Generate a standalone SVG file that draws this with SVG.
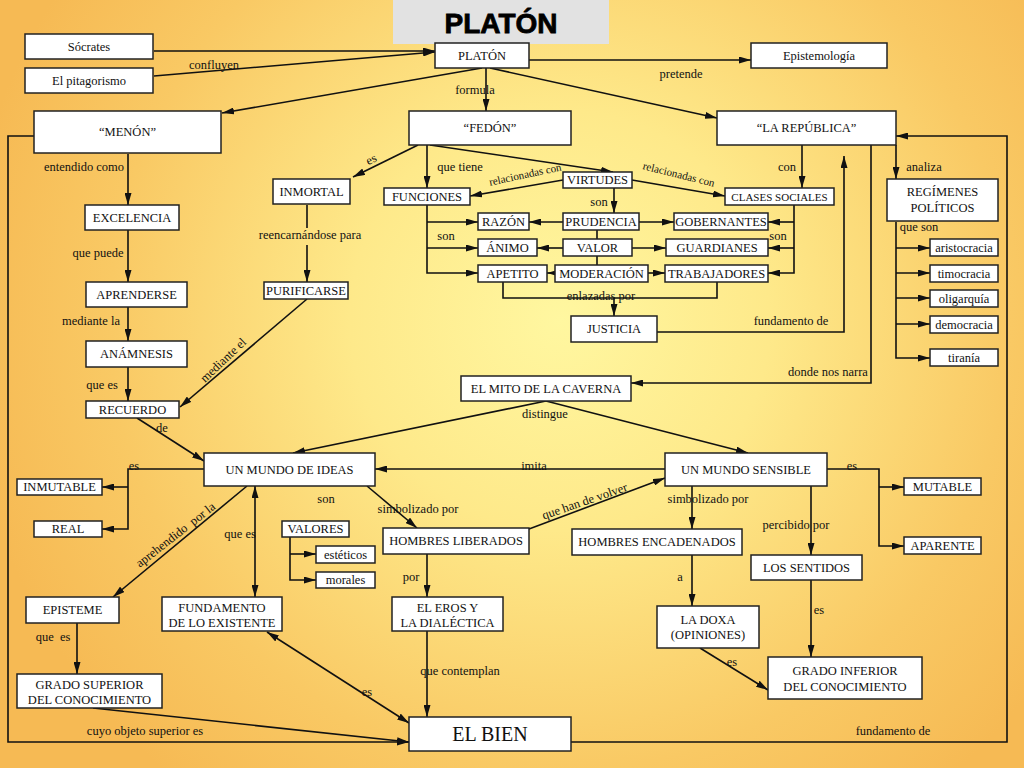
<svg xmlns="http://www.w3.org/2000/svg" width="1024" height="768" viewBox="0 0 1024 768">
<defs>
<radialGradient id="bg" gradientUnits="userSpaceOnUse" cx="560" cy="320" r="600">
<stop offset="0" stop-color="#FFF7A0"/>
<stop offset="0.35" stop-color="#FEE98A"/>
<stop offset="0.75" stop-color="#F9C964"/>
<stop offset="1" stop-color="#F6BA54"/>
</radialGradient>
<marker id="ah" viewBox="0 0 12 7" refX="12" refY="3.5" markerWidth="12" markerHeight="7" markerUnits="userSpaceOnUse" orient="auto"><path d="M0,0 L12,3.5 L0,7 z" fill="#111"/></marker>
<marker id="as" viewBox="0 0 12 7" refX="12" refY="3.5" markerWidth="12" markerHeight="7" markerUnits="userSpaceOnUse" orient="auto-start-reverse"><path d="M0,0 L12,3.5 L0,7 z" fill="#111"/></marker>
<style>
.n rect{fill:#fff;stroke:#222;stroke-width:1.5}
.n text,.l{font-family:"Liberation Serif","Times New Roman",serif;font-size:12.5px;fill:#111;text-anchor:middle}
.c path{fill:none;stroke:#111;stroke-width:1.6}
.c .a{marker-end:url(#ah)}
.c .b{marker-start:url(#as);marker-end:url(#as)}
.sm{font-size:11px !important}
</style>
</defs>
<rect x="0" y="0" width="1024" height="768" fill="url(#bg)"/>
<g id="title">
<rect x="393" y="0" width="216" height="44" fill="#E2E2E2"/>
<text x="501" y="33" font-family="Liberation Sans,Arial,sans-serif" font-weight="bold" font-size="28" text-anchor="middle" fill="#000" stroke="#000" stroke-width="0.8">PLATÓN</text>
</g>
<g class="c" id="connectors">
<path class="a" d="M154,51 H435"/>
<path class="a" d="M154,76 L435,52"/>
<path class="a" d="M529,60 H751"/>
<path class="a" d="M482,68 L222,113"/>
<path class="a" d="M486,68 V111"/>
<path class="a" d="M490,68 L717,118"/>
<path class="a" d="M128,154 V205"/>
<path class="a" d="M128,230 V282"/>
<path class="a" d="M128,307 V341"/>
<path class="a" d="M128,367 V401"/>
<path class="a" d="M418,145 L353,177"/>
<path class="a" d="M427,145 V188"/>
<path class="a" d="M430,145 L613,172"/>
<path class="a" d="M563,180 L470,196"/>
<path class="a" d="M632,180 L725,196"/>
<path class="a" d="M614,188 V213"/>
<path class="a" d="M427,205 V273 H478"/>
<path class="a" d="M427,222 H478"/>
<path class="a" d="M427,248 H478"/>
<path class="a" d="M563,222 H529"/>
<path class="a" d="M639,222 H674"/>
<path class="a" d="M563,248 H537"/>
<path class="a" d="M632,248 H666"/>
<path class="a" d="M555,273 H547"/>
<path class="a" d="M648,273 H665"/>
<path d="M597,230 V239 M597,256 V265"/>
<path class="a" d="M794,205 V273 H768"/>
<path class="a" d="M794,222 H768"/>
<path class="a" d="M794,248 H768"/>
<path d="M503,282 V298 H717 V282"/>
<path class="a" d="M614,298 V316"/>
<path class="a" d="M657,332 H844 V156"/>
<path class="a" d="M802,145 V188"/>
<path class="a" d="M896,145 V179"/>
<path class="a" d="M896,222 V358 H930"/>
<path class="a" d="M896,248 H930"/>
<path class="a" d="M896,273 H930"/>
<path class="a" d="M896,298 H930"/>
<path class="a" d="M896,324 H930"/>
<path class="a" d="M871,145 V383 H631"/>
<path class="a" d="M571,742 H1007 V136 H896"/>
<path class="a" d="M34,136 H8 V742 H409"/>
<path class="a" d="M93,708 L409,742"/>
<path d="M307,205 V228"/>
<path class="a" d="M307,245 V282"/>
<path class="a" d="M307,299 L180,407"/>
<path class="a" d="M137,418 L204,461"/>
<path class="a" d="M546,401 L293,453"/>
<path class="a" d="M546,401 L748,453"/>
<path class="a" d="M665,469 H375"/>
<path class="a" d="M204,469 H128 V529 H102"/>
<path class="a" d="M128,487 H102"/>
<path class="a" d="M247,486 L113,597"/>
<path class="b" d="M255,486 V597"/>
<path class="a" d="M367,486 L417,528"/>
<path class="a" d="M290,537 V580 H316"/>
<path class="a" d="M290,554 H316"/>
<path class="a" d="M529,529 L665,478"/>
<path class="a" d="M427,554 V597"/>
<path class="a" d="M427,631 V717"/>
<path class="b" d="M267,632 L409,723"/>
<path class="a" d="M77,623 V674"/>
<path class="a" d="M692,486 V529"/>
<path class="a" d="M692,555 V606"/>
<path class="a" d="M811,486 V555"/>
<path class="a" d="M811,580 V657"/>
<path class="a" d="M700,648 L768,690"/>
<path class="a" d="M827,469 H879 V546 H904"/>
<path class="a" d="M879,487 H904"/>
</g>
<g id="labels">
<text class="l" x="214" y="69">confluyen</text>
<text class="l" x="681" y="78">pretende</text>
<text class="l" x="475" y="94">formula</text>
<text class="l" x="84" y="171">entendido como</text>
<text class="l" x="373" y="163" transform="rotate(-25 373 163)">es</text>
<text class="l" x="460" y="171">que tiene</text>
<text class="l sm" x="526" y="178" transform="rotate(-12 526 178)">relacionadas con</text>
<text class="l sm" x="678" y="178" transform="rotate(14 678 178)">relacionadas con</text>
<text class="l" x="787" y="171">con</text>
<text class="l" x="924" y="171">analiza</text>
<text class="l" x="599" y="206">son</text>
<text class="l" x="446" y="240">son</text>
<text class="l" x="778" y="240">son</text>
<text class="l" x="919" y="231">que son</text>
<text class="l" x="310" y="239">reencarnándose para</text>
<text class="l" x="98" y="257">que puede</text>
<text class="l" x="601" y="300">enlazadas por</text>
<text class="l" x="791" y="325">fundamento de</text>
<text class="l" x="91" y="325">mediante la</text>
<text class="l" x="226" y="363" transform="rotate(-43.5 226 363)">mediante el</text>
<text class="l" x="828" y="376">donde nos narra</text>
<text class="l" x="102" y="389">que es</text>
<text class="l" x="545" y="418">distingue</text>
<text class="l" x="162" y="432">de</text>
<text class="l" x="134" y="470">es</text>
<text class="l" x="534" y="470">imita</text>
<text class="l" x="852" y="470">es</text>
<text class="l" x="326" y="503">son</text>
<text class="l" x="418" y="513">simbolizado por</text>
<text class="l" x="586" y="505" transform="rotate(-19 586 505)">que han de volver</text>
<text class="l" x="708" y="503">simbolizado por</text>
<text class="l" x="178" y="538" transform="rotate(-38 178 538)" xml:space="preserve">aprehendido  por la</text>
<text class="l" x="240" y="538">que es</text>
<text class="l" x="796" y="529">percibido por</text>
<text class="l" x="411" y="581">por</text>
<text class="l" x="680" y="581">a</text>
<text class="l" x="819" y="614">es</text>
<text class="l" x="53" y="641" xml:space="preserve">que  es</text>
<text class="l" x="732" y="666">es</text>
<text class="l" x="460" y="675">que contemplan</text>
<text class="l" x="367" y="696">es</text>
<text class="l" x="145" y="735">cuyo objeto superior es</text>
<text class="l" x="893" y="735">fundamento de</text>
</g>
<g class="n" id="socrates"><rect x="25" y="34" width="128" height="25"/><text x="89" y="50.8">Sócrates</text></g>
<g class="n" id="pitagorismo"><rect x="25" y="68" width="128" height="25"/><text x="89" y="84.8">El pitagorismo</text></g>
<g class="n" id="platon"><rect x="435" y="43" width="94" height="25"/><text x="482" y="59.8">PLATÓN</text></g>
<g class="n" id="epistemologia"><rect x="751" y="43" width="136" height="25"/><text x="819" y="59.8">Epistemología</text></g>
<g class="n" id="menon"><rect x="34" y="111" width="187" height="42"/><text x="127.5" y="136.3">“MENÓN”</text></g>
<g class="n" id="fedon"><rect x="409" y="111" width="162" height="34"/><text x="490" y="132.3">“FEDÓN”</text></g>
<g class="n" id="republica"><rect x="717" y="111" width="179" height="34"/><text x="806.5" y="132.3">“LA REPÚBLICA”</text></g>
<g class="n" id="excelencia"><rect x="85" y="205" width="94" height="25"/><text x="132" y="221.8">EXCELENCIA</text></g>
<g class="n" id="inmortal"><rect x="273" y="179" width="77" height="25"/><text x="311.5" y="195.8">INMORTAL</text></g>
<g class="n" id="funciones"><rect x="384" y="188" width="86" height="17"/><text x="427" y="200.8">FUNCIONES</text></g>
<g class="n" id="virtudes"><rect x="563" y="172" width="69" height="16"/><text x="597.5" y="184.3">VIRTUDES</text></g>
<g class="n" id="clases"><rect x="725" y="188" width="109" height="17"/><text class="sm" x="779.5" y="200.5">CLASES SOCIALES</text></g>
<g class="n" id="razon"><rect x="478" y="213" width="51" height="17"/><text x="503.5" y="225.8">RAZÓN</text></g>
<g class="n" id="prudencia"><rect x="563" y="213" width="76" height="17"/><text x="601" y="225.8">PRUDENCIA</text></g>
<g class="n" id="gobernantes"><rect x="674" y="213" width="94" height="17"/><text x="721" y="225.8">GOBERNANTES</text></g>
<g class="n" id="animo"><rect x="478" y="239" width="59" height="17"/><text x="507.5" y="251.8">ÁNIMO</text></g>
<g class="n" id="valor"><rect x="563" y="239" width="69" height="17"/><text x="597.5" y="251.8">VALOR</text></g>
<g class="n" id="guardianes"><rect x="666" y="239" width="102" height="17"/><text x="717" y="251.8">GUARDIANES</text></g>
<g class="n" id="apetito"><rect x="478" y="265" width="69" height="17"/><text x="512.5" y="277.8">APETITO</text></g>
<g class="n" id="moderacion"><rect x="555" y="265" width="93" height="17"/><text x="601.5" y="277.8">MODERACIÓN</text></g>
<g class="n" id="trabajadores"><rect x="665" y="265" width="103" height="17"/><text x="716.5" y="277.8">TRABAJADORES</text></g>
<g class="n" id="justicia"><rect x="571" y="316" width="86" height="26"/><text x="614" y="333.3">JUSTICIA</text></g>
<g class="n" id="regimenes"><rect x="887" y="179" width="111" height="42"/><text x="942.5" y="196.3">REGÍMENES</text><text x="942.5" y="211.8">POLÍTICOS</text></g>
<g class="n" id="aristocracia"><rect x="930" y="239" width="68" height="17"/><text x="964" y="251.8">aristocracia</text></g>
<g class="n" id="timocracia"><rect x="930" y="265" width="68" height="17"/><text x="964" y="277.8">timocracia</text></g>
<g class="n" id="oligarquia"><rect x="930" y="290" width="68" height="17"/><text x="964" y="302.8">oligarquía</text></g>
<g class="n" id="democracia"><rect x="930" y="316" width="68" height="17"/><text x="964" y="328.8">democracia</text></g>
<g class="n" id="tirania"><rect x="930" y="349" width="68" height="17"/><text x="964" y="361.8">tiranía</text></g>
<g class="n" id="aprenderse"><rect x="86" y="282" width="101" height="25"/><text x="136.5" y="298.8">APRENDERSE</text></g>
<g class="n" id="anamnesis"><rect x="86" y="341" width="101" height="26"/><text x="136.5" y="358.3">ANÁMNESIS</text></g>
<g class="n" id="recuerdo"><rect x="86" y="401" width="93" height="17"/><text x="132.5" y="413.8">RECUERDO</text></g>
<g class="n" id="purificarse"><rect x="264" y="282" width="84" height="17"/><text x="306" y="294.8">PURIFICARSE</text></g>
<g class="n" id="mito"><rect x="461" y="376" width="170" height="25"/><text x="546" y="392.8">EL MITO DE LA CAVERNA</text></g>
<g class="n" id="ideas"><rect x="204" y="453" width="171" height="33"/><text x="289.5" y="473.8">UN MUNDO DE IDEAS</text></g>
<g class="n" id="sensible"><rect x="665" y="453" width="162" height="33"/><text x="746" y="473.8">UN MUNDO SENSIBLE</text></g>
<g class="n" id="inmutable"><rect x="17" y="479" width="85" height="16"/><text x="59.5" y="491.3">INMUTABLE</text></g>
<g class="n" id="real"><rect x="34" y="521" width="68" height="16"/><text x="68" y="533.3">REAL</text></g>
<g class="n" id="valores"><rect x="282" y="521" width="67" height="16"/><text x="315.5" y="533.3">VALORES</text></g>
<g class="n" id="esteticos"><rect x="316" y="546" width="59" height="17"/><text x="345.5" y="558.8">estéticos</text></g>
<g class="n" id="morales"><rect x="316" y="572" width="59" height="16"/><text x="345.5" y="584.3">morales</text></g>
<g class="n" id="liberados"><rect x="383" y="528" width="146" height="26"/><text x="456" y="545.3">HOMBRES LIBERADOS</text></g>
<g class="n" id="encadenados"><rect x="572" y="529" width="170" height="26"/><text x="657" y="546.3">HOMBRES ENCADENADOS</text></g>
<g class="n" id="sentidos"><rect x="751" y="555" width="111" height="25"/><text x="806.5" y="571.8">LOS SENTIDOS</text></g>
<g class="n" id="mutable"><rect x="904" y="478" width="77" height="17"/><text x="942.5" y="490.8">MUTABLE</text></g>
<g class="n" id="aparente"><rect x="904" y="537" width="77" height="17"/><text x="942.5" y="549.8">APARENTE</text></g>
<g class="n" id="episteme"><rect x="26" y="597" width="93" height="26"/><text x="72.5" y="614.3">EPISTEME</text></g>
<g class="n" id="fundamento"><rect x="162" y="597" width="120" height="34"/><text x="222" y="611.5">FUNDAMENTO</text><text x="222" y="626.5">DE LO EXISTENTE</text></g>
<g class="n" id="eros"><rect x="392" y="597" width="111" height="34"/><text x="447.5" y="611.5">EL EROS Y</text><text x="447.5" y="626.5">LA DIALÉCTICA</text></g>
<g class="n" id="doxa"><rect x="657" y="606" width="102" height="42"/><text x="708" y="624.3">LA DOXA</text><text x="708" y="639.3">(OPINIONES)</text></g>
<g class="n" id="gradosuperior"><rect x="17" y="674" width="145" height="34"/><text x="89.5" y="688.5">GRADO SUPERIOR</text><text x="89.5" y="703.5">DEL CONOCIMIENTO</text></g>
<g class="n" id="gradoinferior"><rect x="768" y="657" width="154" height="42"/><text x="845" y="675.3">GRADO INFERIOR</text><text x="845" y="691.3">DEL CONOCIMIENTO</text></g>
<g class="n" id="elbien"><rect x="409" y="717" width="162" height="34"/><text x="490" y="741" style="font-size:20px">EL BIEN</text></g>
</svg>
